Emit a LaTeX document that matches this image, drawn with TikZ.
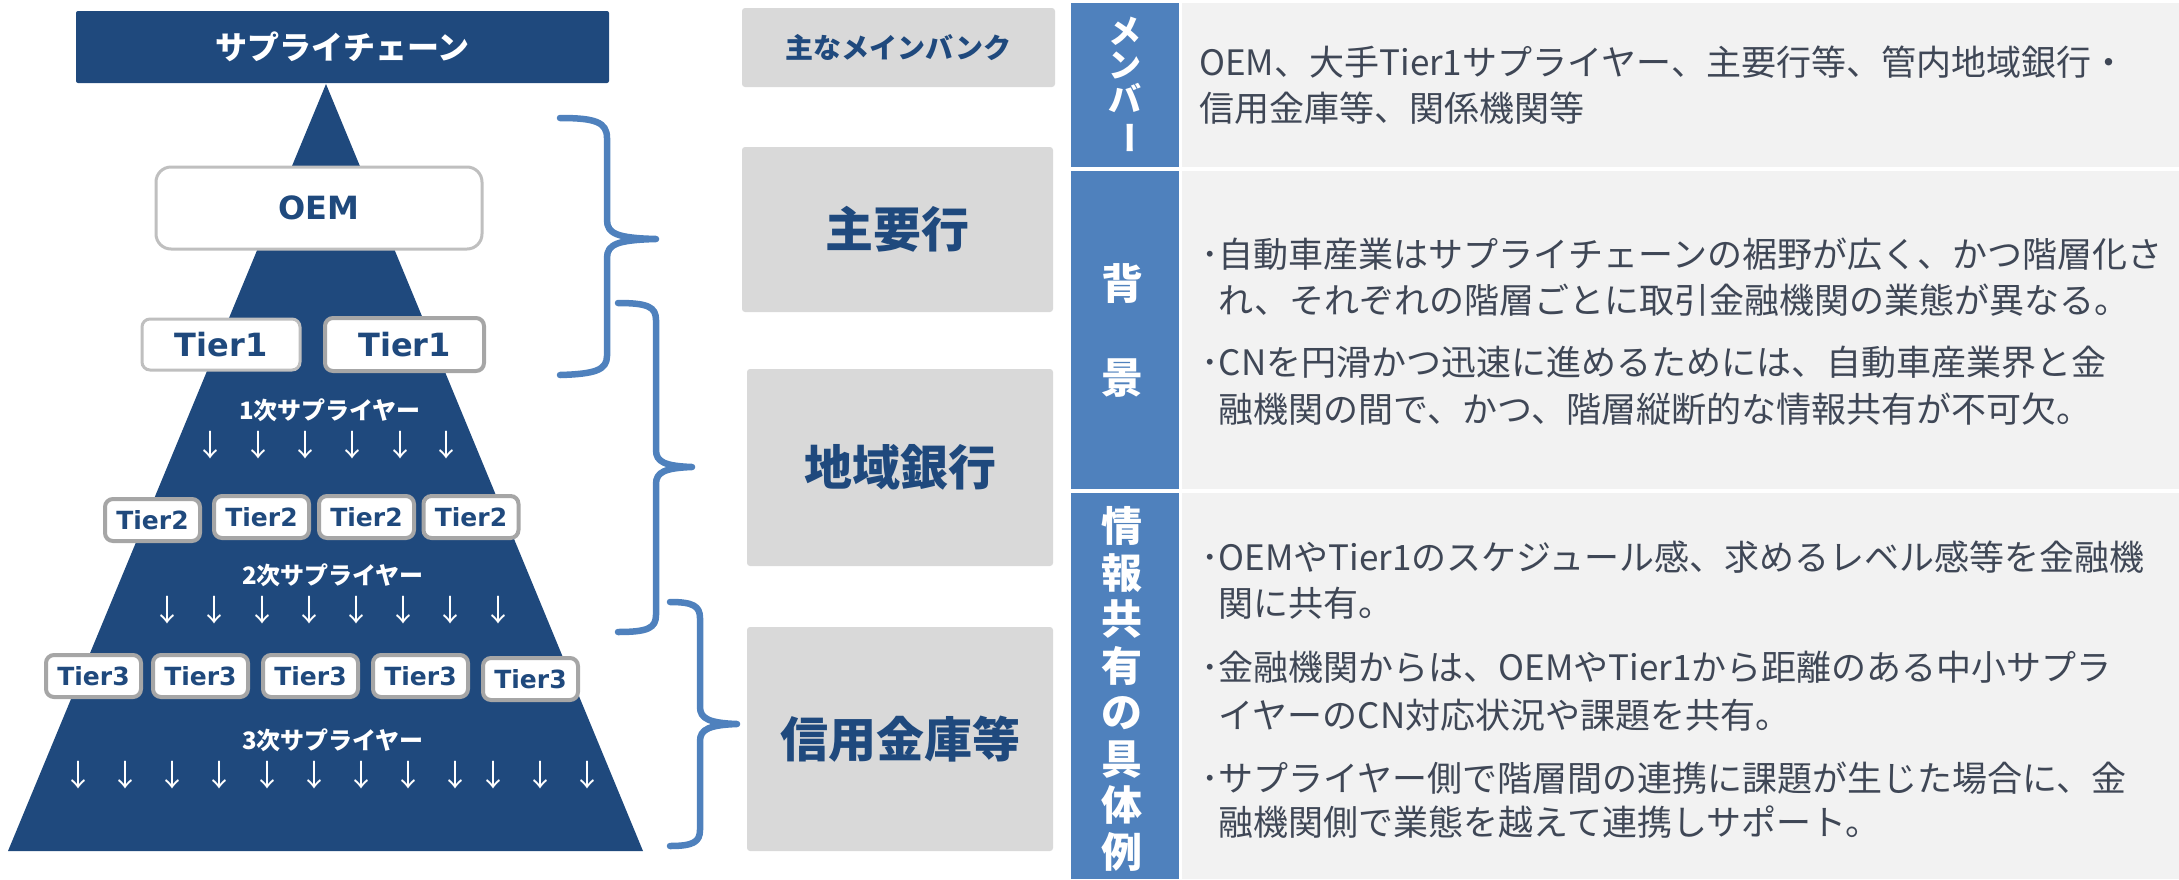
\documentclass[tikz,border=0pt]{standalone}
\usepackage{fontspec}
\usepackage{graphicx}
\setmainfont{Noto Sans CJK JP}
\newfontfamily\tierfont{DejaVu Sans}
\definecolor{navy}{HTML}{1F497D}
\definecolor{accent}{HTML}{4F81BD}
\definecolor{boxgray}{HTML}{D9D9D9}
\definecolor{panelgray}{HTML}{F2F2F2}
\definecolor{bodytext}{HTML}{3F4756}
\definecolor{tierborder}{HTML}{A6A6A6}
\definecolor{oemborder}{HTML}{BFBFBF}
\tikzset{
  tierbox/.style={draw=tierborder, line width=2pt, fill=white, rounded corners=4pt,
    minimum width=47.5pt, minimum height=21pt, inner sep=0pt, text=navy,
    font=\tierfont\bfseries\fontsize{12.5}{14}\selectfont},
  tieronebox/.style={tierbox, minimum width=79pt, minimum height=25.5pt,
    font=\tierfont\bfseries\fontsize{16}{18}\selectfont},
  bankbox/.style={fill=boxgray, rounded corners=1.5pt, inner sep=0pt, text=navy,
    font=\bfseries\fontsize{24}{28}\selectfont},
  headcell/.style={fill=accent},
  panelcell/.style={fill=panelgray},
  headtext/.style={text=white, inner sep=0pt, align=center},
  bodyline/.style={anchor=west, inner sep=0pt, text=bodytext,
    font=\fontsize{17.5}{20}\selectfont},
  tierlabel/.style={text=white, inner sep=0pt, font=\bfseries\fontsize{12}{14}\selectfont},
  downarrow/.style={text=white, inner sep=0pt, font=\fontsize{15}{16}\selectfont},
  bracestyle/.style={draw=accent, line width=3.25pt, line cap=round, line join=round}
}
\begin{document}
\begin{tikzpicture}[x=0.5pt,y=-0.5pt]
\useasboundingbox (0,0) rectangle (2179,879);
% pyramid
\fill[navy] (326,84) -- (643,851) -- (8,851) -- cycle;
\node[fill=navy, minimum width=266.5pt, minimum height=36pt, inner sep=0pt, rounded corners=1pt,
  text=white, font=\bfseries\fontsize{16}{18}\selectfont] (title) at (342.5,47) {サプライチェーン};
% OEM
\node[draw=oemborder, line width=1.5pt, fill=white, rounded corners=7.5pt, minimum width=163pt,
  minimum height=41pt, inner sep=0pt, text=navy, font=\tierfont\bfseries\fontsize{16}{18}\selectfont]
  (oem) at (319,208) {OEM};
% Tier1
\node[tieronebox, draw=oemborder, line width=1.5pt] (t1a) at (221,344.5) {Tier1};
\node[tieronebox, minimum width=79.5pt, minimum height=26.5pt] (t1b) at (404.5,344.5) {Tier1};
\node[tierlabel] (s1) at (330,410) {1次サプライヤー};
\foreach \x [count=\i] in {210,258,305,352,400,446}
  \node[downarrow] (a1-\i) at (\x,445) {↓};
% Tier2
\node[tierbox] (t2a) at (152.5,520) {Tier2};
\node[tierbox] (t2b) at (261.5,517) {Tier2};
\node[tierbox] (t2c) at (366.5,517) {Tier2};
\node[tierbox] (t2d) at (471,517) {Tier2};
\node[tierlabel] (s2) at (333,575) {2次サプライヤー};
\foreach \x [count=\i] in {167,214,262,309,356,403,450,498}
  \node[downarrow] (a2-\i) at (\x,610) {↓};
% Tier3
\node[tierbox] (t3a) at (93.5,676) {Tier3};
\node[tierbox] (t3b) at (200.5,676) {Tier3};
\node[tierbox] (t3c) at (310.5,676) {Tier3};
\node[tierbox] (t3d) at (420.5,676) {Tier3};
\node[tierbox] (t3e) at (530.5,679) {Tier3};
\node[tierlabel] (s3) at (333,740) {3次サプライヤー};
\foreach \x [count=\i] in {78,125,172,219,267,314,361,408,455,493,540,587}
  \node[downarrow] (a3-\i) at (\x,775) {↓};
% braces
\draw[bracestyle] (560,118) .. controls (595,118) and (607,122) .. (607,138) -- (607,220)
  .. controls (607,234) and (618,238) .. (656,239) .. controls (618,240) and (607,244) .. (607,258)
  -- (607,356) .. controls (607,370) and (595,374) .. (560,375);
\draw[bracestyle] (618,303) .. controls (648,303) and (656,307) .. (656,320) -- (656,450)
  .. controls (656,462) and (665,466) .. (692,467) .. controls (665,468) and (656,472) .. (656,484)
  -- (656,615) .. controls (656,628) and (648,632) .. (618,632);
\draw[bracestyle] (670,602) .. controls (693,602) and (700,606) .. (700,618) -- (700,707)
  .. controls (700,719) and (710,723) .. (737,724) .. controls (710,725) and (700,729) .. (700,741)
  -- (700,830) .. controls (700,842) and (693,846) .. (670,846);
% bank boxes
\node[bankbox, minimum width=156.5pt, minimum height=39.5pt, font=\bfseries\fontsize{14}{16}\selectfont]
  (b0) at (898.5,47.5) {主なメインバンク};
\node[bankbox, minimum width=155.5pt, minimum height=82.5pt] (b1) at (897.5,229.5) {主要行};
\node[bankbox, minimum width=153pt, minimum height=98.5pt] (b2) at (900,467.5) {地域銀行};
\node[bankbox, minimum width=153pt, minimum height=112pt] (b3) at (900,739) {信用金庫等};
% right panel cells
\fill[headcell] (1071,3) rectangle (1179,167);
\fill[headcell] (1071,171) rectangle (1179,489);
\fill[headcell] (1071,493) rectangle (1179,879);
\fill[panelcell] (1182,3) rectangle (2179,167);
\fill[panelcell] (1182,171) rectangle (2179,489);
\fill[panelcell] (1182,493) rectangle (2179,879);
% headers
\node[headtext, font=\bfseries\fontsize{16.5}{17}\selectfont] (h1) at (1125,86)
  {メ\\ン\\バ\\\rotatebox[origin=c]{-90}{ー}};
\node[headtext, font=\bfseries\fontsize{21}{47}\selectfont] (h2) at (1122,330) {背\\景};
\node[headtext, font=\bfseries\fontsize{20.5}{23.25}\selectfont] (h3) at (1122,689)
  {情\\報\\共\\有\\の\\具\\体\\例};
% body text
\node[bodyline] (r1l1) at (1199,62) {OEM、大手Tier1サプライヤー、主要行等、管内地域銀行・};
\node[bodyline] (r1l2) at (1199,108) {信用金庫等、関係機関等};
\node[bodyline] (r2l1) at (1201,254) {･自動車産業はサプライチェーンの裾野が広く、かつ階層化さ};
\node[bodyline] (r2l2) at (1201,300) {\hphantom{･}れ、それぞれの階層ごとに取引金融機関の業態が異なる。};
\node[bodyline] (r2l3) at (1201,362) {･CNを円滑かつ迅速に進めるためには、自動車産業界と金};
\node[bodyline] (r2l4) at (1201,409) {\hphantom{･}融機関の間で、かつ、階層縦断的な情報共有が不可欠。};
\node[bodyline] (r3l1) at (1201,557) {･OEMやTier1のスケジュール感、求めるレベル感等を金融機};
\node[bodyline] (r3l2) at (1201,603) {\hphantom{･}関に共有。};
\node[bodyline] (r3l3) at (1201,667) {･金融機関からは、OEMやTier1から距離のある中小サプラ};
\node[bodyline] (r3l4) at (1201,715) {\hphantom{･}イヤーのCN対応状況や課題を共有。};
\node[bodyline] (r3l5) at (1201,778) {･サプライヤー側で階層間の連携に課題が生じた場合に、金};
\node[bodyline] (r3l6) at (1201,822) {\hphantom{･}融機関側で業態を越えて連携しサポート。};
\end{tikzpicture}
\end{document}
